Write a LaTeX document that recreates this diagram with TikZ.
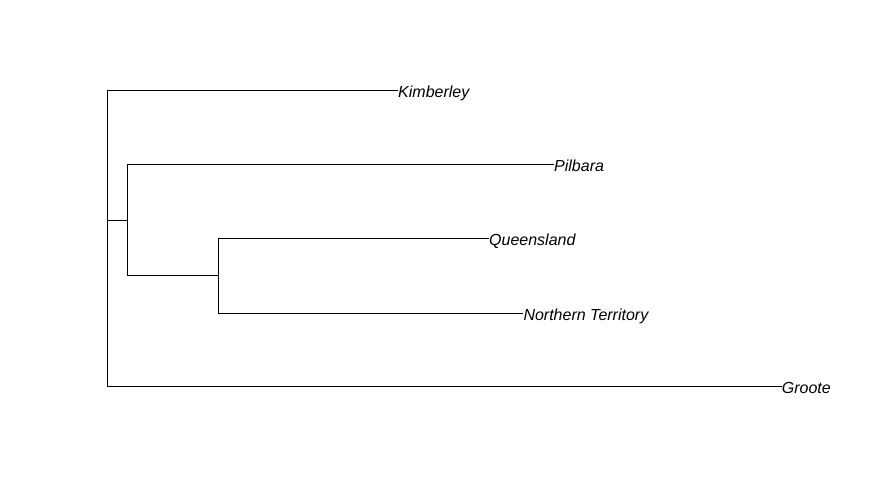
\documentclass[tikz,border=0pt]{standalone}
\usepackage{fontspec}
\setmainfont{Liberation Sans}
\usetikzlibrary{positioning}

\begin{document}
\begin{tikzpicture}[x=1pt, y=-1pt,
    branch/.style={draw=black, line width=0.9pt},
    leaf/.style={anchor=base west, inner sep=0pt, yshift=-7pt, font=\fontsize{16}{19}\selectfont\itshape}]

    \useasboundingbox (0,0) rectangle (895,497);

    \coordinate (root) at (107.3,220);
    \coordinate (inner) at (127.3,220);
    \coordinate (pair) at (218.3,275.8);

    \coordinate (kimtip) at (398,90.3);
    \coordinate (piltip) at (554,164.7);
    \coordinate (qldtip) at (489,238.5);
    \coordinate (nttip) at (523.3,313.3);
    \coordinate (grotip) at (781.7,386.7);

    \node[leaf] (kimberley) at (kimtip) {Kimberley};
    \node[leaf] (pilbara) at (piltip) {Pilbara};
    \node[leaf] (queensland) at (qldtip) {Queensland};
    \node[leaf] (territory) at (nttip) {Northern Territory};
    \node[leaf] (groote) at (grotip) {Groote};

    \draw[branch] (root) |- (kimtip);
    \draw[branch] (root) |- (grotip);
    \draw[branch] (root) -- (inner);
    \draw[branch] (inner) |- (piltip);
    \draw[branch] (inner) |- (pair);
    \draw[branch] (pair) |- (qldtip);
    \draw[branch] (pair) |- (nttip);
\end{tikzpicture}
\end{document}
